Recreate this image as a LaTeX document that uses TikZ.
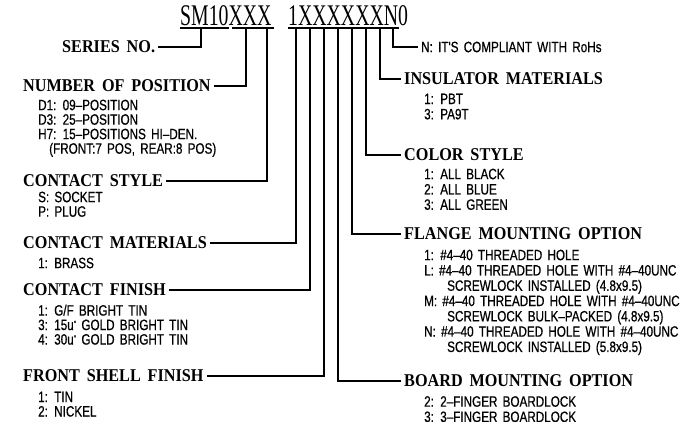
\documentclass[tikz,border=0pt]{standalone}
\usepackage{fontspec}
\newfontfamily\hdfont[FakeStretch=0.9,WordSpace=1.7]{Liberation Serif}
\newfontfamily\itfont[FakeStretch=0.78,WordSpace=1.6,FakeBold=0.6]{Liberation Sans}
\newfontfamily\codefont[FakeStretch=0.66]{Liberation Serif}
\newcommand\microq{\raisebox{3pt}{\fontsize{9}{9}\selectfont"}}
\tikzset{
  hd/.style={font=\hdfont\bfseries\fontsize{18}{18}\selectfont, inner xsep=3pt, inner ysep=0pt, anchor=west},
  itm/.style={font=\itfont\fontsize{15}{14.5}\selectfont, inner sep=0pt, align=left, anchor=north west},
  itmr/.style={itm, font=\itfont\fontsize{15}{15.3}\selectfont},
  itmline/.style={font=\itfont\fontsize{15}{15}\selectfont, inner xsep=3pt, inner ysep=0pt, anchor=west},
  conn/.style={line width=1.6pt},
  code/.style={font=\codefont\fontsize{30}{30}\selectfont, inner sep=0pt, anchor=base west}
}
\begin{document}
\begin{tikzpicture}[x=1pt,y=-1pt]
\useasboundingbox (0,0) rectangle (696,422);
\fill[white] (0,0) rectangle (696,422);

% part number
\node[code] (codeA) at (180,25.5) {SM10XXX};
\node[code] (codeB) at (288,25.5) {1XXXXXXN0};
\coordinate (uA1) at (180,28); \coordinate (uA2) at (229,28);
\coordinate (uB1) at (232,28); \coordinate (uB2) at (274,28);
\coordinate (uC1) at (288,28); \coordinate (uC2) at (399,28);
\draw[conn] (uA1) -- (uA2);
\draw[conn] (uB1) -- (uB2);
\draw[conn] (uC1) -- (uC2);

% top points of the leaders
\coordinate (tS)  at (201,28);
\coordinate (tNa) at (246,28);
\coordinate (tNb) at (267,28);
\coordinate (tM)  at (296,28);
\coordinate (tF)  at (310,28);
\coordinate (tSh) at (324,28);
\coordinate (tB)  at (338,28);
\coordinate (tFl) at (352,28);
\coordinate (tC)  at (366,28);
\coordinate (tI)  at (380,28);
\coordinate (tR)  at (393,28);

% left headings
\node[hd] (series) at (59,47) {SERIES NO.};
\node[hd] (numpos) at (20,86) {NUMBER OF POSITION};
\node[hd] (cstyle) at (20,181) {CONTACT STYLE};
\node[hd] (cmat) at (20,243) {CONTACT MATERIALS};
\node[hd] (cfin) at (20,290) {CONTACT FINISH};
\node[hd] (fshell) at (20,376) {FRONT SHELL FINISH};

% right headings
\node[itmline] (rohs) at (418,47) {N: IT'S COMPLIANT WITH RoHs};
\node[hd] (insul) at (401,79) {INSULATOR MATERIALS};
\node[hd] (color) at (401,155) {COLOR STYLE};
\node[hd] (flange) at (401,234) {FLANGE MOUNTING OPTION};
\node[hd] (board) at (401,381) {BOARD MOUNTING OPTION};

% leaders
\draw[conn] (series.east) -| (tS);
\draw[conn] (numpos.east) -| (tNa);
\draw[conn] (cstyle.east) -| (tNb);
\draw[conn] (cmat.east) -| (tM);
\draw[conn] (cfin.east) -| (tF);
\draw[conn] (fshell.east) -| (tSh);
\draw[conn] (tB) |- (board.west);
\draw[conn] (tFl) |- (flange.west);
\draw[conn] (tC) |- (color.west);
\draw[conn] (tI) |- (insul.west);
\draw[conn] (tR) |- (rohs.west);

% left item lists
\node[itm] (numposL) at (38,99.5) {D1: 09–POSITION\\D3: 25–POSITION\\H7: 15–POSITIONS HI–DEN.\\\hspace*{11pt}(FRONT:7 POS, REAR:8 POS)};
\node[itm] (cstyleL) at (38,191.5) {S: SOCKET\\P: PLUG};
\node[itm] (cmatL) at (38,257.5) {1: BRASS};
\node[itm] (cfinL) at (38,304.5) {1: G/F BRIGHT TIN\\3: 15u\microq{} GOLD BRIGHT TIN\\4: 30u\microq{} GOLD BRIGHT TIN};
\node[itm] (fshellL) at (38,391.5) {1: TIN\\2: NICKEL};

% right item lists
\node[itmr] (insulL) at (424,93.5) {1: PBT\\3: PA9T};
\node[itmr] (colorL) at (424,168.5) {1: ALL BLACK\\2: ALL BLUE\\3: ALL GREEN};
\node[itmr] (flangeL) at (424,249.5) {1: \#4–40 THREADED HOLE\\L: \#4–40 THREADED HOLE WITH \#4–40UNC\\\hspace*{23pt}SCREWLOCK INSTALLED (4.8x9.5)\\M: \#4–40 THREADED HOLE WITH \#4–40UNC\\\hspace*{23pt}SCREWLOCK BULK–PACKED (4.8x9.5)\\N: \#4–40 THREADED HOLE WITH \#4–40UNC\\\hspace*{23pt}SCREWLOCK INSTALLED (5.8x9.5)};
\node[itmr] (boardL) at (424,396) {2: 2–FINGER BOARDLOCK\\3: 3–FINGER BOARDLOCK};
\end{tikzpicture}
\end{document}
